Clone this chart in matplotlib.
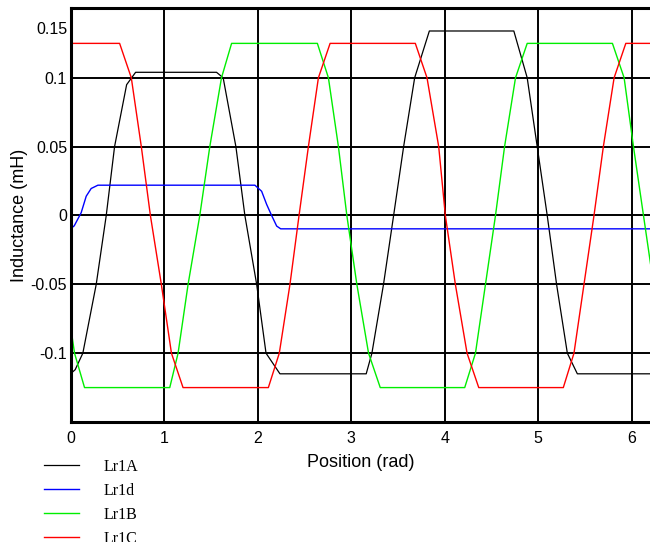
import matplotlib
matplotlib.use("Agg")
import matplotlib.pyplot as plt
import matplotlib.transforms as mtransforms

# values (position in rad, inductance in mH)
a_x = [0.0, 0.05, 0.132, 0.275, 0.382, 0.471, 0.60, 0.696, 1.561, 1.632, 1.768, 1.864, 1.99, 2.09, 2.239,
       3.161, 3.222, 3.346, 3.454, 3.561, 3.679, 3.836, 4.739, 4.882, 4.989, 5.096, 5.196, 5.311, 5.418, 6.2]
a_y = [-0.115, -0.112, -0.1, -0.05, 0.0, 0.05, 0.095, 0.104, 0.104, 0.1, 0.05, 0.0, -0.05, -0.1, -0.115,
       -0.115, -0.1, -0.05, 0.0, 0.05, 0.1, 0.134, 0.134, 0.1, 0.05, 0.0, -0.05, -0.1, -0.115, -0.115]

d_x = [0.0, 0.04, 0.114, 0.168, 0.221, 0.293, 1.971, 2.043, 2.097, 2.15, 2.204, 2.247, 6.2]
d_y = [-0.0097, -0.0075, 0.002, 0.014, 0.0196, 0.022, 0.022, 0.0176, 0.008, 0.0, -0.0077, -0.0097, -0.0097]

b_x = [0.0, 0.043, 0.15, 1.061, 1.15, 1.257, 1.382, 1.489, 1.614, 1.722, 2.639, 2.757, 2.864, 2.954, 3.061,
       3.186, 3.311, 4.214, 4.329, 4.436, 4.543, 4.64, 4.757, 4.882, 5.793, 5.918, 6.018, 6.125, 6.2]
b_y = [-0.08, -0.1, -0.125, -0.125, -0.1, -0.05, 0.0, 0.05, 0.1, 0.125, 0.125, 0.1, 0.05, 0.0, -0.05,
       -0.1, -0.125, -0.125, -0.1, -0.05, 0.0, 0.05, 0.1, 0.125, 0.125, 0.1, 0.05, 0.0, -0.035]

c_x = [0.0, 0.525, 0.65, 0.757, 0.854, 0.971, 1.079, 1.203, 2.115, 2.232, 2.346, 2.443, 2.543, 2.65, 2.775,
       3.686, 3.811, 3.936, 4.007, 4.114, 4.239, 4.364, 5.268, 5.382, 5.489, 5.596, 5.696, 5.811, 5.936, 6.2]
c_y = [0.125, 0.125, 0.1, 0.05, 0.0, -0.05, -0.1, -0.125, -0.125, -0.1, -0.05, 0.0, 0.05, 0.1, 0.125,
       0.125, 0.1, 0.05, 0.0, -0.05, -0.1, -0.125, -0.125, -0.1, -0.05, 0.0, 0.05, 0.1, 0.125, 0.125]

yticks = [-0.1, -0.05, 0, 0.05, 0.1, 0.15]
ytick_labels = ["-0.1", "-0.05", "0", "0.05", "0.1", "0.15"]
xticks = [0, 1, 2, 3, 4, 5, 6]

plt.rcParams['font.family'] = ['Liberation Sans', 'DejaVu Sans']

fig = plt.figure(figsize=(6.5, 5.42), dpi=100)
ax = fig.add_axes([70.5 / 650, 120 / 542, 580 / 650, 414 / 542])

ax.plot(a_x, a_y, color='black', lw=0.9, label='Lr1A')
ax.plot(d_x, d_y, color='#0000ff', lw=1.0, label='Lr1d')
ax.plot(b_x, b_y, color='#00ee00', lw=1.0, label='Lr1B')
ax.plot(c_x, c_y, color='#ff0000', lw=1.0, label='Lr1C')

ax.set_xlim(0, 6.2)
ax.set_ylim(-0.15, 0.1507)
ax.set_xticks(xticks)
ax.set_xticklabels([str(t) for t in xticks])
ax.set_yticks(yticks)
ax.set_yticklabels(ytick_labels)
ax.tick_params(length=0, labelsize=11.5)
ax.tick_params(axis='x', pad=6.5)
ax.tick_params(axis='y', pad=2.5)
ax.grid(True, color='black', lw=1.4)
ax.set_axisbelow(True)
for s in ax.spines.values():
    s.set_linewidth(2.2)
ax.spines['right'].set_visible(False)

# top label sits lower than its value in the reference
shift = mtransforms.ScaledTranslation(0, -0.19, fig.dpi_scale_trans)
top_lab = ax.get_yticklabels()[-1]
top_lab.set_transform(top_lab.get_transform() + shift)

ax.set_xlabel('Position (rad)', fontsize=13, labelpad=6)
ax.set_ylabel('Inductance (mH)', fontsize=13, labelpad=1.8)

fig.legend(loc='upper left', bbox_to_anchor=(44 / 650, 1 - 459 / 542), frameon=False,
           prop={'family': 'Liberation Serif', 'size': 11.5}, handlelength=2.2,
           handletextpad=1.5, labelspacing=0.5, borderpad=0, borderaxespad=0)

fig.savefig('out.png', dpi=100)
